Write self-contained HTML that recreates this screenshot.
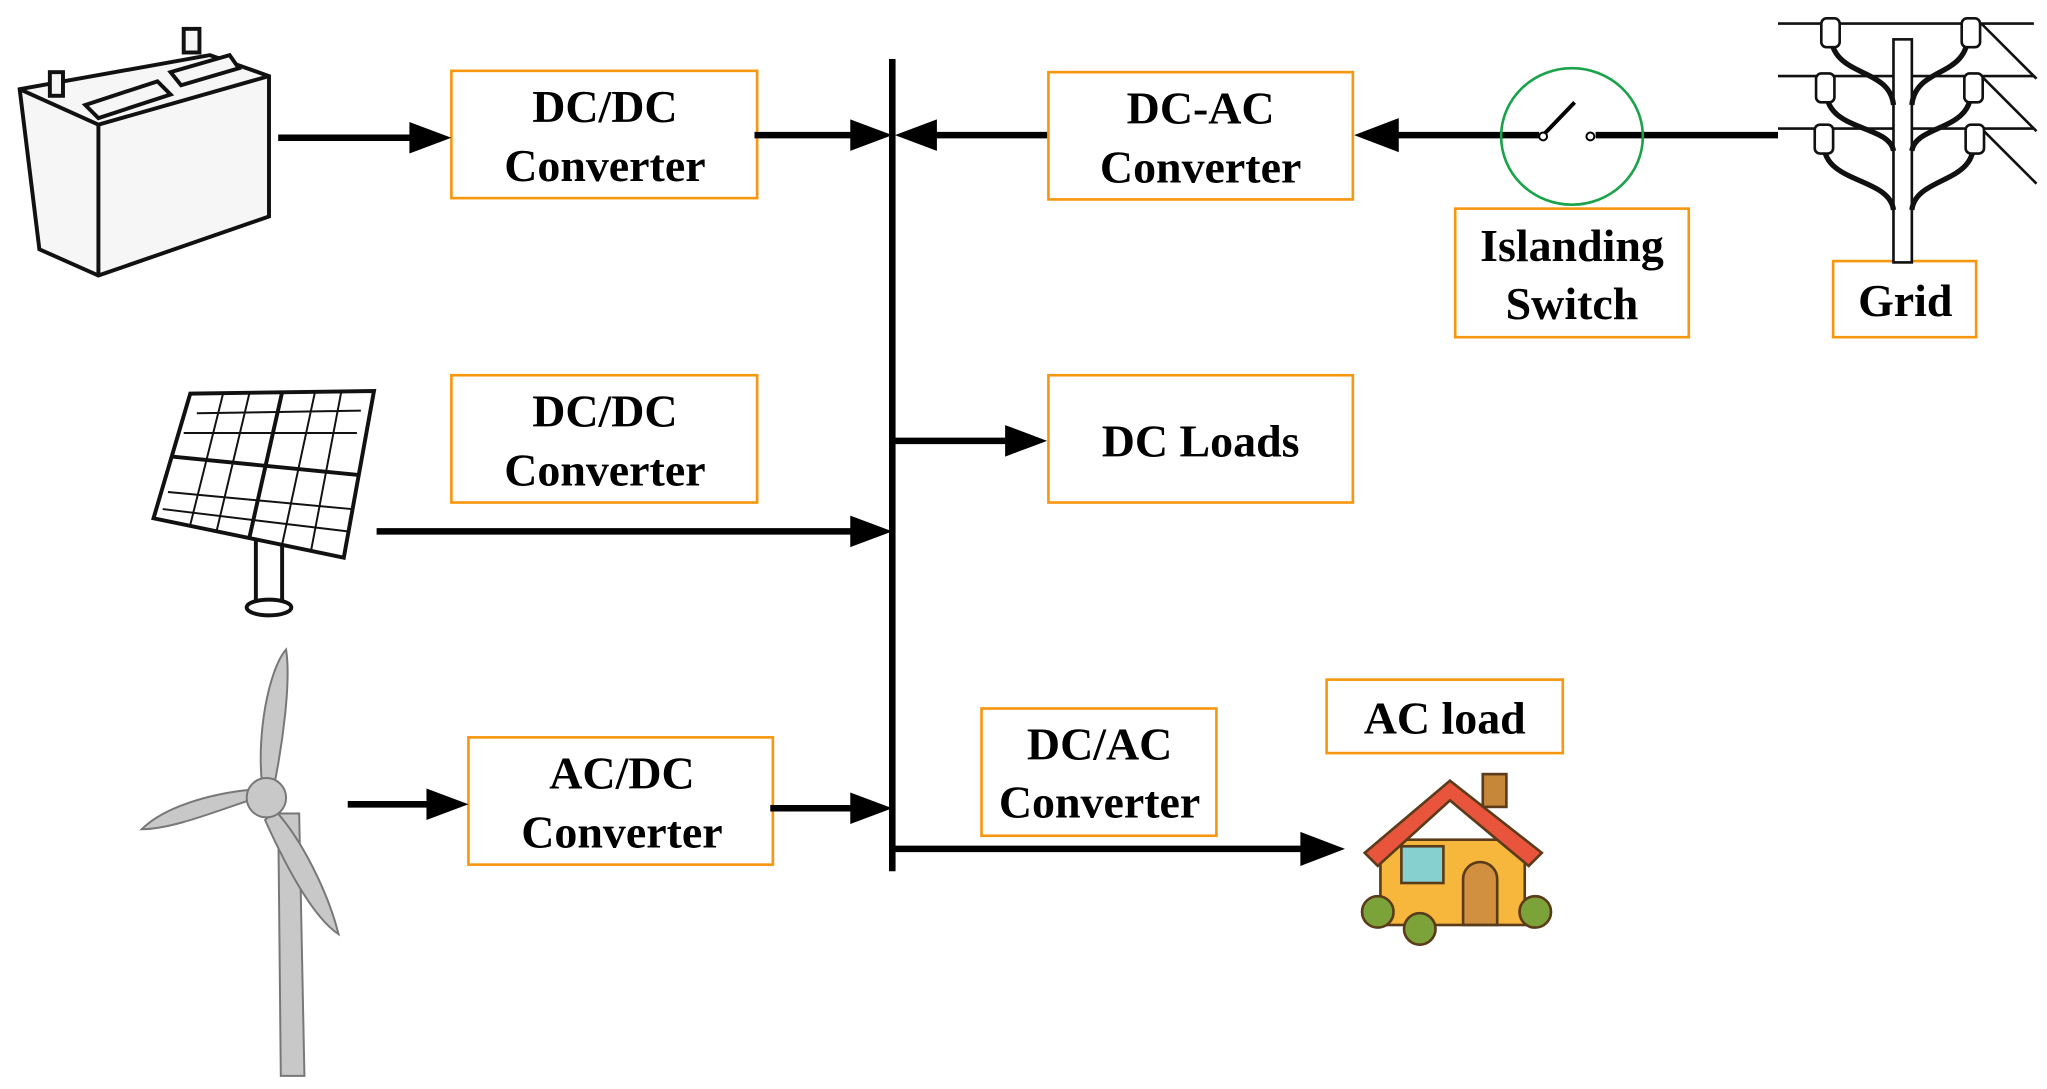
<!DOCTYPE html>
<html><head><style>html,body{margin:0;padding:0;background:#fff}svg{display:block}</style></head>
<body>
<svg width="2047" height="1089" viewBox="0 0 1560 830" preserveAspectRatio="none" xmlns="http://www.w3.org/2000/svg">
<g font-family="Liberation Serif, serif" font-weight="bold" font-size="35" text-anchor="middle" fill="#000">
<g fill="none" stroke="#f7960f" stroke-width="2">
<rect x="344" y="54" width="233" height="97"/>
<rect x="799" y="55" width="232" height="97"/>
<rect x="1109" y="159" width="178" height="98"/>
<rect x="1397" y="199" width="109" height="58"/>
<rect x="344" y="286" width="233" height="97"/>
<rect x="799" y="286" width="232" height="97"/>
<rect x="357" y="562" width="232" height="97"/>
<rect x="748" y="540" width="179" height="97"/>
<rect x="1011" y="518" width="180" height="56"/>
</g>
<text x="461" y="93">DC/DC</text><text x="461" y="138">Converter</text>
<text x="915" y="94">DC-AC</text><text x="915" y="139">Converter</text>
<text x="1198" y="199">Islanding</text><text x="1198" y="243">Switch</text>
<text x="1452" y="241">Grid</text>
<text x="461" y="325">DC/DC</text><text x="461" y="370">Converter</text>
<text x="915" y="348">DC Loads</text>
<text x="474" y="601">AC/DC</text><text x="474" y="646">Converter</text>
<text x="838" y="579">DC/AC</text><text x="838" y="623">Converter</text>
<text x="1101" y="559">AC load</text>
</g>
<g stroke="#000" stroke-width="5" fill="none">
<line x1="680" y1="45" x2="680" y2="664"/>
<line x1="212" y1="105" x2="316" y2="105"/>
<line x1="575" y1="103" x2="652" y2="103"/>
<line x1="798" y1="103" x2="712" y2="103"/>
<line x1="1355" y1="103" x2="1216" y2="103"/>
<line x1="1173" y1="103" x2="1064" y2="103"/>
<line x1="682" y1="336" x2="770" y2="336"/>
<line x1="287" y1="405" x2="652" y2="405"/>
<line x1="265" y1="613" x2="330" y2="613"/>
<line x1="587" y1="616" x2="652" y2="616"/>
<line x1="682" y1="647" x2="995" y2="647"/>
<line x1="1176" y1="103" x2="1200" y2="78" stroke-width="3"/>
</g>
<g fill="#000">
<path d="M344,105 L312,93 L312,117 z"/>
<path d="M680,103 L648,91 L648,115 z"/>
<path d="M682,103 L714,91 L714,115 z"/>
<path d="M1032,103 L1066,90 L1066,116 z"/>
<path d="M798,336 L766,324 L766,348 z"/>
<path d="M680,405 L648,393 L648,417 z"/>
<path d="M357,613 L325,601 L325,625 z"/>
<path d="M680,616 L648,604 L648,628 z"/>
<path d="M1025,647 L991,634 L991,660 z"/>
</g>
<circle cx="1176" cy="104" r="3" fill="#fff" stroke="#000" stroke-width="1.5"/>
<circle cx="1212" cy="104" r="3" fill="#fff" stroke="#000" stroke-width="1.5"/>
<ellipse cx="1198" cy="104" rx="54" ry="52" fill="none" stroke="#1aa34a" stroke-width="2"/>
<g stroke="#111" stroke-width="3" fill="#f6f6f6">
<path d="M15,68 L160,42 L205,58 L205,165 L75,210 L30,190 Z"/>
<path d="M15,68 L75,95 L205,58" fill="none"/>
<line x1="75" y1="95" x2="75" y2="210"/>
<rect x="38" y="55" width="10" height="18"/><rect x="140" y="22" width="12" height="18"/>
<path d="M65,80 L120,62 L130,72 L75,90Z"/><path d="M130,55 L175,42 L182,52 L138,65Z"/>
</g>
<g stroke="#111" stroke-width="3" fill="#fff">
<rect x="195" y="410" width="20" height="50"/><ellipse cx="205" cy="463" rx="17" ry="6"/>
<path d="M145,300 L285,298 L262,425 L117,395 Z"/>
<path d="M215,299 L190,410 M131,348 L273,362" fill="none"/>
<path d="M150,315 L275,313 M140,330 L272,330 M128,375 L268,388 M124,388 L265,405 M170,300 L145,400 M190,300 L165,405 M240,299 L215,415 M260,299 L237,420" fill="none" stroke-width="1.5"/>
</g>
<g fill="#c8c8c8" stroke="#777" stroke-width="1.5">
<path d="M212,620 L228,620 L232,820 L214,820 Z"/>
<path d="M200,600 C195,560 205,510 218,495 C222,520 215,570 208,603 Z"/>
<path d="M190,610 C160,620 130,632 108,632 C125,615 160,605 190,602 Z"/>
<path d="M210,618 C230,640 250,680 258,712 C240,700 220,665 202,625 Z"/>
<circle cx="203" cy="608" r="15"/>
</g>
<g stroke="#111" stroke-width="2" fill="none">
<line x1="1355" y1="18" x2="1550" y2="18"/><line x1="1355" y1="58" x2="1550" y2="58"/><line x1="1355" y1="98" x2="1550" y2="98"/>
<line x1="1510" y1="18" x2="1552" y2="60"/><line x1="1510" y1="58" x2="1552" y2="100"/><line x1="1510" y1="98" x2="1552" y2="140"/>
<rect x="1443" y="30" width="14" height="170" fill="#fff"/>
<path d="M1395,25 C1395,60 1440,50 1443,80 M1500,25 C1500,60 1460,50 1457,80 M1392,70 C1392,100 1440,95 1443,115 M1502,70 C1502,100 1460,95 1457,115 M1390,110 C1390,140 1440,135 1443,160 M1504,110 C1504,140 1460,135 1457,160" stroke-width="4"/>
<g fill="#fff"><rect x="1388" y="14" width="14" height="22" rx="4"/><rect x="1495" y="14" width="14" height="22" rx="4"/><rect x="1384" y="56" width="14" height="22" rx="4"/><rect x="1497" y="56" width="14" height="22" rx="4"/><rect x="1383" y="95" width="14" height="22" rx="4"/><rect x="1498" y="95" width="14" height="22" rx="4"/></g>
</g>
<g stroke="#5a3b1a" stroke-width="2">
<rect x="1130" y="590" width="18" height="25" fill="#c7873a"/>
<rect x="1052" y="640" width="110" height="65" fill="#f6b73c"/>
<path d="M1040,650 L1105,595 L1175,650 L1165,660 L1105,610 L1050,660 Z" fill="#e8553c"/>
<rect x="1068" y="645" width="32" height="28" fill="#86d0d0"/>
<path d="M1115,705 L1115,670 A13,13 0 0 1 1141,670 L1141,705Z" fill="#d09040"/>
<circle cx="1050" cy="695" r="12" fill="#7ca33a"/><circle cx="1170" cy="695" r="12" fill="#7ca33a"/><circle cx="1082" cy="708" r="12" fill="#7ca33a"/>
</g>
</svg>
</body></html>
